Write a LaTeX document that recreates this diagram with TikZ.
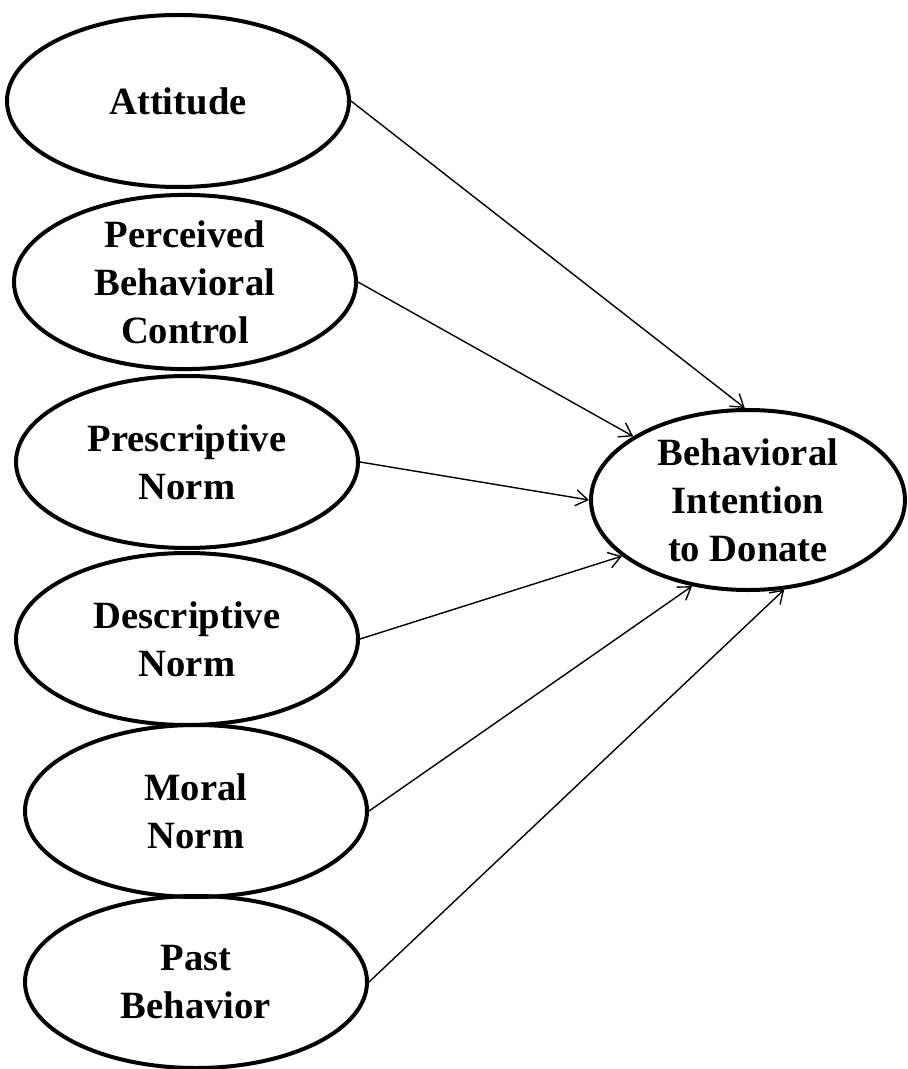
\documentclass[tikz,border=0pt]{standalone}
\usepackage{fontspec}
\setmainfont{Liberation Serif}
\usetikzlibrary{shapes.geometric,arrows.meta}
\begin{document}
\begin{tikzpicture}[x=0.5pt, y=-0.5pt,
  factor/.style={draw, ellipse, line width=2pt, inner sep=0pt, align=center,
    minimum width=171pt, minimum height=86pt,
    font=\fontsize{19.3}{24}\selectfont\bfseries},
  path/.style={line width=0.7pt, -{Straight Barb[length=6pt,width=8pt]}}]
\useasboundingbox (0,0) rectangle (908,1069);
\node[factor] (att) at (178,101) {Attitude};
\node[factor] (pbc) at (185,282) {Perceived\\ Behavioral\\ Control};
\node[factor] (pre) at (187,462) {Prescriptive\\ Norm};
\node[factor] (des) at (187,639) {Descriptive\\ Norm};
\node[factor] (mor) at (196,811) {Moral\\ Norm};
\node[factor] (pst) at (196,982) {Past\\ Behavior};
\node[factor, minimum width=157pt, minimum height=90pt] (bi) at (748,500) {Behavioral\\ Intention\\ to Donate};
\draw[path] (att.east) -- (bi.92);
\draw[path] (pbc.east) -- (bi.151);
\draw[path] (pre.east) -- (bi.west);
\draw[path] (des.east) -- (bi.204);
\draw[path] (mor.east) -- (bi.237);
\draw[path] (pst.east) -- (bi.292);
\end{tikzpicture}
\end{document}
